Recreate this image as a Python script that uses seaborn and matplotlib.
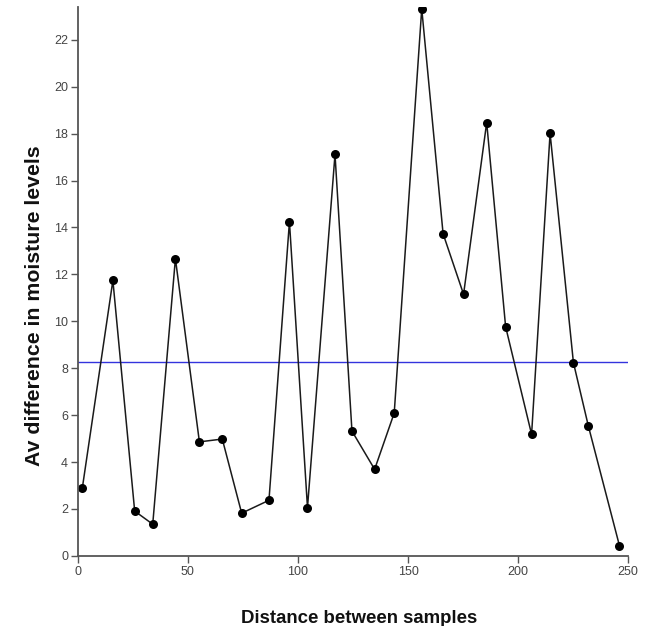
import matplotlib
matplotlib.use("Agg")
import matplotlib.pyplot as plt
import seaborn as sns
import pandas as pd

distance = [2.0, 15.9, 25.8, 34.0, 44.3, 55.2, 65.6, 74.4, 86.8, 96.1, 104.3, 116.8,
            124.5, 134.8, 143.7, 156.2, 165.9, 175.2, 185.7, 194.3, 206.1, 214.5,
            225.1, 231.9, 246.0]
moisture = [2.88, 11.74, 1.91, 1.35, 12.67, 4.86, 4.98, 1.82, 2.37, 14.24, 2.06, 17.11,
            5.32, 3.69, 6.09, 23.32, 13.73, 11.15, 18.47, 9.77, 5.18, 18.01,
            8.24, 5.53, 0.44]
mean_level = 8.27
x_ticks = [0, 50, 100, 150, 200, 250]
y_ticks = [0, 2, 4, 6, 8, 10, 12, 14, 16, 18, 20, 22]

df = pd.DataFrame({"distance": distance, "moisture": moisture})

sns.set_style("white")
plt.rcParams["font.family"] = ["Liberation Sans", "DejaVu Sans"]

fig = plt.figure(figsize=(6.49, 6.26), dpi=100)
ax = fig.add_axes([0.120, 0.112, 0.848, 0.877])

sns.lineplot(data=df, x="distance", y="moisture", ax=ax, color="#1a1a1a",
             linewidth=1.1, marker="o", markersize=6.5, markeredgewidth=0,
             markerfacecolor="black", sort=False)
ax.plot([0, 250], [mean_level, mean_level], color="#3333dd", linewidth=1.0, zorder=1)

ax.set_xlim(0, 250)
ax.set_ylim(0, 23.4)
ax.set_xticks(x_ticks)
ax.set_yticks(y_ticks)
ax.margins(0)

for side in ["top", "right"]:
    ax.spines[side].set_visible(False)
for side in ["left", "bottom"]:
    ax.spines[side].set_color("#555555")
    ax.spines[side].set_linewidth(1.3)

ax.tick_params(axis="both", which="major", direction="out", length=5, width=1,
               color="#555555", labelcolor="#444444", labelsize=9, pad=2,
               left=True, bottom=True)

ax.set_xlabel("Distance between samples", fontsize=13.4, fontweight="bold",
              color="#111111")
ax.set_ylabel("Av difference in moisture levels", fontsize=15.3, fontweight="bold",
              color="#111111")
ax.xaxis.set_label_coords(0.511, -0.098)
ax.yaxis.set_label_coords(-0.061, 0.455)

fig.savefig("out.png", dpi=100, facecolor="white")
